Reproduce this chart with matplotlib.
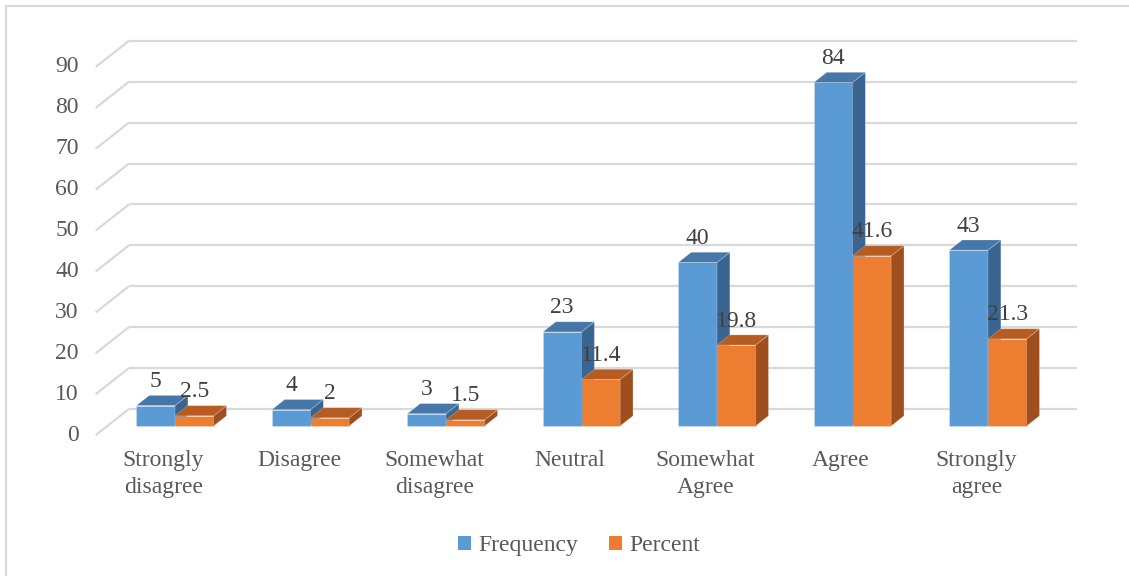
import matplotlib
matplotlib.use("Agg")
import matplotlib.pyplot as plt
from matplotlib.patches import Polygon, Patch
from matplotlib.lines import Line2D
import numpy as np

# ---- data ----
categories = ["Strongly\ndisagree", "Disagree", "Somewhat\ndisagree", "Neutral",
              "Somewhat\nAgree", "Agree", "Strongly\nagree"]
frequency = [5, 4, 3, 23, 40, 84, 43]
percent = [2.5, 2, 1.5, 11.4, 19.8, 41.6, 21.3]
series_names = ["Frequency", "Percent"]
y_ticks = [0, 10, 20, 30, 40, 50, 60, 70, 80, 90]

# ---- style ----
FONT = "Liberation Serif"
FS = 17
BLUE = ("#5B9BD5", "#4677A8", "#3A6590")     # front, top, side
ORANGE = ("#ED7D31", "#B65C22", "#9E4F1D")
GRID = "#D9D9D9"
TICK_C = "#595959"
LABEL_C = "#404040"

W, H = 1129, 576
fig = plt.figure(figsize=(W / 100, H / 100), dpi=100)
ax = fig.add_axes([0, 0, 1, 1])

# pixel scale of the category / value axes
SX = 135.5      # px per category
SY = 4.09       # px per value unit
X0, Y0 = 175.0, 426.0   # pixel position of category 0 / value 0 on the bar front plane
ax.set_xlim(-X0 / SX, (W - X0) / SX)
ax.set_ylim((Y0 - H) / SY, Y0 / SY)
ax.axis("off")

# oblique depth direction (data units per unit of depth)
DX = 33 / SX
DY = 26 / SY
T_FRONT, T_BAR, T_BACK = -0.35, 0.39, 0.655
BAR_W = 0.285

n = len(categories)
left, right = -0.5, n - 0.5

# back wall gridlines plus the diagonal along the left side wall
for v in y_ticks:
    ax.plot([left + T_BACK * DX, right + T_BACK * DX],
            [v + T_BACK * DY, v + T_BACK * DY],
            color=GRID, lw=1.6, solid_capstyle="butt", zorder=1)
    ax.plot([left + T_FRONT * DX, left + T_BACK * DX],
            [v + T_FRONT * DY, v + T_BACK * DY],
            color=GRID, lw=1.6, solid_capstyle="butt", zorder=1)
    ax.annotate(str(v), xy=(left + T_FRONT * DX, v + T_FRONT * DY),
                xytext=(-17, 0), textcoords="offset pixels",
                ha="right", va="center", fontsize=FS, family=FONT, color=TICK_C)


def bar3d(x0, val, colors, z):
    x1 = x0 + BAR_W
    bdx, bdy = T_BAR * DX, T_BAR * DY
    ax.bar(x0, val, width=BAR_W, bottom=0, align="edge", color=colors[0],
           edgecolor="#FFFFFF40", linewidth=0.6, zorder=z)
    top = Polygon([(x0, val), (x1, val), (x1 + bdx, val + bdy), (x0 + bdx, val + bdy)],
                  closed=True, facecolor=colors[1], edgecolor="#FFFFFF40",
                  linewidth=0.6, zorder=z)
    side = Polygon([(x1, 0), (x1, val), (x1 + bdx, val + bdy), (x1 + bdx, bdy)],
                   closed=True, facecolor=colors[2], edgecolor="#FFFFFF40",
                   linewidth=0.6, zorder=z)
    ax.add_patch(side)
    ax.add_patch(top)


for i in range(n):
    bar3d(i - BAR_W, frequency[i], BLUE, 2 + i * 0.1)
    bar3d(i, percent[i], ORANGE, 2.05 + i * 0.1)
    for xc, val in ((i - BAR_W / 2, frequency[i]), (i + BAR_W / 2, percent[i])):
        ax.annotate(f"{val:g}", xy=(xc, val), xytext=(0, 24),
                    textcoords="offset pixels", ha="center", va="center",
                    fontsize=FS, family=FONT, color=LABEL_C, zorder=10)
    ax.annotate(categories[i], xy=(i + T_FRONT * DX, T_FRONT * DY),
                xytext=(0, -15), textcoords="offset pixels",
                ha="center", va="top", fontsize=FS, family=FONT,
                color=TICK_C, linespacing=1.38)

# legend
handles = [Patch(facecolor=BLUE[0], edgecolor="none"),
           Patch(facecolor=ORANGE[0], edgecolor="none")]
fig.legend(handles, series_names, loc="center", bbox_to_anchor=(0.513, 0.053),
           ncol=2, frameon=False, handlelength=0.55, handleheight=0.55,
           handletextpad=0.3, columnspacing=1.3,
           prop={"family": FONT, "size": FS}, labelcolor=TICK_C)

# chart area border (left and top edges)
fig.add_artist(Line2D([5.5 / W, 5.5 / W], [0, 1 - 5.5 / H], transform=fig.transFigure,
                      color=GRID, lw=1.5))
fig.add_artist(Line2D([5.5 / W, 1], [1 - 5.5 / H, 1 - 5.5 / H], transform=fig.transFigure,
                      color=GRID, lw=1.5))

fig.savefig("out.png", dpi=100)
